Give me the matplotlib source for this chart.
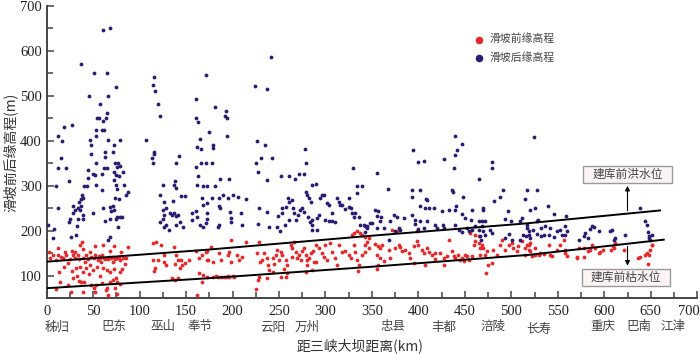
import matplotlib
matplotlib.use('Agg')
import matplotlib.pyplot as plt
from matplotlib.patches import Rectangle
from matplotlib.ticker import MultipleLocator
import matplotlib.transforms as mtransforms

# ---------------- data (distance km, elevation m) ----------------
front_pts = [
    (7.2,146),(12.6,146),(15,142),(10,135),(20.9,146),(27,155),(28.8,146),(30.6,152),(36,167),(37.8,174),
    (38.8,159),(34,146),(35,137),(39.6,140),(42.4,146),(46.8,152),(50.4,138.5),(52.5,146),(54.7,135),(57.6,138.5),
    (59.7,146),(61,168),(63,137),(64.7,138.5),(67,142),(69,138.5),(71,131),(73.4,138.5),(76,138.5),(79,135),
    (82,140),(85.6,138.5),(87,164.4),(72.7,166.7),(68.3,155),(52.5,166.7),(13.7,109),(27,110),(31.7,118),(36,120),
    (38.8,109),(42.4,116),(46.8,124),(49.6,112.6),(54,120),(60.4,118),(64.7,112.6),(68.3,109),(72.7,115),(79,107.6),
    (81.3,115),(35.3,88),(37.4,85),(40.3,86.7),(47.5,79),(50.4,73.3),(53,79),(26.3,64.4),(38.8,64.4),(52,64.4),
    (63.3,67.4),(68.3,86.7),(71,90.4),(74.8,94),(76,85),(78.4,81),(74,72),(66,57),(76,58.5),(64.7,73.3),
    (59.7,83),(28,94),(23.4,79),(14.4,86.7),(18.7,120),(23.4,127.4),(114.4,172),(117.3,174),(123,168),(126.6,146),
    (114.4,135),(119.4,135),(126,131),(128,124),(117,116.3),(115.8,110.4),(136.7,164.4),(139.6,146),(141,135),(138.5,125),
    (144,135),(145.7,124),(149,127.4),(153,135),(135,94),(138.5,90.4),(141,94),(143,116.3),(161,155),(164,138.5),
    (167,146),(172,155),(172.7,135),(164,105),(168.3,101.5),(172.7,98),(167,86.7),(162,57),(4,140),(12.7,161),(10,70),
    (44,136),(48,141),(56,143),(62,140),(66,136),(70,141),(74,136),(78,141),(31,140),(25,138),
    (41,131),(58,131),(45,104),(57,100),(33,100),(20,152),(80,152),(84,126),(18,140),(2,152),
    (176.8,164.4),(171.4,153.3),(173.2,135),(178.6,131),(185.7,149.6),(187.5,135),(194.6,146),(196.4,153.3),(198.2,129.6),(204.3,146),
    (207,135),(210,142),(214.3,175.6),(198.2,179),(182,100),(184,98),(187.5,98),(191,98),(193,98),(196.4,98),
    (200,99),(201.8,98),(194.6,100),(178.6,98),(228.6,175.6),(226.8,149.6),(234,149.6),(232,135),(229.3,129.6),(237.5,138.5),
    (238.6,124),(243,138.5),(246.4,146),(248.2,157),(251.8,153.3),(253.6,146),(250,135),(257,135),(259,124),(262.5,168),
    (264.3,160.7),(266,175.6),(267.9,153.3),(269.6,138.5),(271.4,146),(273.2,135),(275,155),(276.8,160.7),(278.6,146),(280.4,135),
    (282,138.5),(284,149.6),(286.4,155),(287.5,131),(280.4,124),(278.6,109),(285.7,112.6),(289.3,131),(259,105),(255.4,115),
    (251.8,98),(257,98),(243,109),(237.5,94),(228.6,98),(227.9,90.4),(225,70),(239.3,112.6),(244.6,125),(264.3,142),
    (296.4,149.6),(298.2,142),(301.8,135),(307,153.3),(310.7,138.5),(312.5,124),(314.3,168),(317.9,153.3),(321.4,155),(325,146),
    (327.9,138.5),(330.4,168),(332,153.3),(334,135),(336.4,124),(335,110.4),(339.3,146),(342.9,153.3),(328.6,190),(330.4,194),
    (334,199),(337.5,194),(339.3,190),(342.9,187),(344.6,175.6),(346.4,183),(305.4,172),(300,168),(289.3,168),(292.9,160.7),
    (343,169),(346.4,161.5),(353.6,170),(356.5,165),(359,161.5),(360.8,169),(355.4,145),(359,139),(357,124.4),(355.4,115.6),
    (362.5,132),(369.7,139),(368,157.8),(375,161.5),(378.7,169),(380.5,163),(382,154),(385.8,157.8),(389.4,150.4),(391,139),
    (394.8,128),(394.8,165),(400,169),(398.4,176),(403.8,157.8),(405.6,150.4),(409,161.5),(411,152.6),(414.5,146.7),(407,124.4),
    (418,150.4),(423.5,150.4),(427,139),(418,137.8),(427,124.4),(430.6,143),(432.4,180),(436,154),(437.8,143),(439.6,139),
    (443,146.7),(445,135.6),(446.8,139),(448.6,132),(450.4,146.7),(452,143),(454,135.6),(457.5,143),(459.3,169),(461,176),
    (464.7,172.6),(466.5,161.5),(468.3,169),(469,161.5),(466.5,145),(472,146.7),(473.7,154),(475.4,124.4),(479,128),(480.8,157.8),
    (484.4,146.7),(488,169),(489.8,180),(493.4,157.8),(497,169),(500.5,172.6),(502.3,161.5),(506,154),(507.7,165),(511.3,176),
    (515,161.5),(518.5,169),(520,154),(472.6,106),(455.7,195),(461,191),(464.7,187.4),(377,198.5),(371.5,202),(398.4,198.5),
    (516.7,169),(520.3,172.6),(518.5,157.8),(525.7,161.5),(531,150.4),(525,146.7),(529.3,146.7),(534.7,148),(540,169),(541.9,146.7),
    (543.7,143),(549,157.8),(552.6,169),(558,157.8),(557.3,150.4),(559.8,143),(556.2,180),(570.6,140.7),(577.7,140.7),(572.4,161.5),
    (577.7,161.5),(586.7,169),(585,157.8),(594,150.4),(607.5,157.8),(610,161.5),(611.8,172.6),(609,165),(638.7,140.7),(644,146.7),
    (645.9,150.4),(647.7,145),(649.5,157.8),(651.3,169),(647,126),(515,146.7),(522,143),(570.5,139),(583,154),(590,161.5),
    (595,151.8),(599,157.8),(620.7,157.8),(636.8,139),(651.2,169),
]

rear_pts = [
    (12.6,410),(16.9,400),(18.3,430),(15.4,361),(12.6,340),(21.2,340),(27.3,435),(36.6,571),(45.6,500),(51,550),
    (61,646),(68.5,650),(64.6,550),(66.4,500),(74.3,520),(46.6,401),(48,390),(48,370),(53.5,410),(53.1,350),
    (52.7,425),(54.5,450),(56.7,450),(57,481),(59.2,425),(61.7,425),(60.6,445),(63.9,450),(64.6,463),(63.2,375),
    (63.2,365),(61.7,340),(65.3,340),(66,401),(72.1,390),(71.8,375),(79.3,401),(73.9,350),(76.4,350),(78.6,345),
    (75.7,341),(72.5,330),(74.6,325),(77.5,321),(82.2,330),(44.5,336),(44.9,317),(50.2,326),(52,323),(60,326),
    (106.9,402),(115.2,541),(114.1,525),(116.6,511),(119.8,481),(122.4,456),(113.7,361),(114.1,350),(115.2,375),(115.9,371),
    (139.2,350),(142.4,366),(160.4,493),(161.1,450),(163.3,441),(161.8,387),(165,403),(166.1,381),(160.4,341),(162.9,321),
    (166.1,350),(171.2,546),(171.2,350),(174.7,420),(181.2,476),(179,391),(178.7,384),(178.3,350),(191.6,456),(193.8,450),
    (193.4,466),(193.8,410),(224.3,521),(226,400),(225.7,350),(227.8,330),(230.4,361),(237.2,516),(241.5,586),(242.2,361),
    (235,391),(251.9,321),(260.5,321),(271.6,326),(277.7,381),(279.1,350),(267.7,316),(277,326),
    (24.5,310),(10,300),(40,300),(43.5,300),(53,301),(72.7,312.6),(75,301),(83.5,301),(125,301),(138,310),
    (137.4,301),(139,295.5),(168,300),(172,300),(162,301),(37.8,279),(36.7,270),(39,273),(35,264),(37.4,255),
    (59.7,290),(76,292.6),(74,272),(77.7,270),(87,287),(85.6,279),(122,279),(144.6,277),(148.6,278),(126.6,264),
    (135.6,266),(128.4,250),(167,272),(168.7,257),(172.7,261),(12.6,250),(28,255.6),(30,246),(28.8,238.5),(33.8,250),
    (36.3,246),(39,235),(39.6,227),(25.5,226),(34,227),(24.5,220),(50,238.5),(60.4,250),(68,253),(69,244),
    (71,255),(72.3,246),(68.3,227),(75.5,231),(81.3,231),(78.8,231),(63,221.5),(77,209),(74.8,227),(124.8,246),
    (126.6,235),(125,227),(122.3,220),(128,212.6),(133,238.5),(135,235),(137.4,240),(139.6,233),(141.4,235),(143,218.5),
    (139,212.6),(146.8,209),(156.8,224),(162,231),(164.7,212.6),(168.3,209),(171,216),(172.7,226),(172,238.5),(132,201.5),
    (126,209),(156.8,238.5),(160.4,243.7),(1,212.6),(7.6,203.7),(6.5,184.4),(26.3,186.7),(31.7,190),(33,210),(65.8,179),
    (67.6,186.7),
    (236.8,312.6),(186.8,314),(195.7,315),(181.4,300),(189.3,279),(185.7,272),(177.9,273),(185.7,255),(186.8,250),(194.6,273),
    (200.7,279),(205.4,275.6),(214.3,270),(197,242),(198.2,229),(209,238.5),(210,212.6),(198.2,220),(185.7,212.6),(184,209),
    (228.6,251),(236.8,242),(239.3,209),(227.5,214),(248.2,209),(250.7,199),(256.4,212.6),(260.7,223.7),(252.9,238.5),(249.3,233),
    (257,253),(260.7,264.4),(260,272),(264.3,268),(253.6,249.6),(265,249.6),(266,238.5),(268.6,223.7),(270.7,235),(272.5,246),
    (275,249.6),(276.8,242),(279.3,286.7),(280.4,279),(282,272),(284,264.4),(285.7,301.5),(289.3,303),(280.7,231),(282.9,220),
    (285,223.7),(285.7,212.6),(285.7,201.5),(291,201.5),(291,227.4),(292.9,235),(296.4,279),(298.2,279),(294.6,272),(301.8,260.7),
    (304.3,257),(307,238.5),(300,223.7),(304.3,221.5),(307,221.5),(310.7,220),(312.5,272),(314.3,264.4),(316,257),(317.9,257),
    (321.4,248),(325,272),(325.7,253),(327.9,249.6),(328.6,238.5),(330.4,231),(332,238.5),(334,300),(339,300),(334,283),
    (336.4,231),(337.5,212.6),(341,212.6),(342.9,198),(344.6,211),
    (393,276),(409,269),(402,254),(407,250),(411,250),(417,250),(425,244),(432.4,246.7),(439.6,246.7),(440.3,256),
    (446.8,237),(450.4,228),(457.5,246.7),(456.8,224.4),(469,250),(470,246.7),(464.7,220.7),(468.3,220.7),(472,220.7),(481,266.7),
    (488,276),(496,244),(492.7,226.7),(499.8,222),(353.6,246.7),(356.5,243),(355.4,232),(360,230),(359,220.7),(350,217),
    (373.3,235.6),(377,229.6),(369.7,220.7),(378.7,206),(380.5,202),(374.4,198.5),(385,228),(393,235.6),(395.9,224.4),(396.6,214.8),
    (402,220.7),(399.5,204.4),(405.6,206),(409,220.7),(418,213),(420,206),(426,213),(427,206),(439,213),(444,202),
    (446.8,197),(452,206),(454,198.5),(457.5,202),(461,209.6),(464.7,202),(466.5,187.4),(467.6,180),(468.3,209.6),(470,198.5),
    (472,191),(477,202),(479,194.8),(497,192.6),(511.3,228),(509.5,220.7),(516.7,213),(518.5,198.5),(513,191),(520,183.7),
    (343,209.6),(344.6,206),(355.4,206),(362.5,206),(368,180),(348,217),(509.5,180),(500.5,180),(493.4,183.7),
    (329.4,340),(355.2,328),(394.6,380),(399.4,353),(406,355.6),(428,360),(438,340),(439.5,411),(446.7,393),(441.3,380),
    (439.8,369),(479,352.7),(479,340),(465,316),(367.7,292.6),(393.5,291),(401.8,291),(436.6,291),(437.7,286.7),(408,270),
    (448.5,276),(490.8,291),(515,270),(524.9,409),(516.7,291),(527.4,291),
    (520.3,246.7),(525,250.4),(539.4,254),(545.5,237),(558.7,232),(528.6,224.4),(527.5,220.7),(516.7,206),(522.8,202),(536.5,209.6),
    (532.2,206),(541.9,206),(549,200),(552.6,202),(558,209.6),(559.8,198.5),(515.7,187.4),(519.3,191),(527.5,192.6),(532.2,187.4),
    (534.7,189.6),(540,191),(545.5,185),(554.4,189.6),(558,191),(638.7,250.4),(644,220.7),(645.9,213.3),(647,197),(647.7,187.4),
    (648.4,183.7),(649.5,180),(651.3,191),(586.7,209.6),(585,204.4),(588.5,207.4),(579.5,194.8),(577.7,187.4),(583,183.7),(572.4,180),
    (606.4,198.5),(608.2,202),(610,180),(611.8,183.7),(594.6,200),(621.9,191),
]

flood_x = [0, 175, 345, 515, 660]
flood_y = [131, 158, 188, 216, 245]
low_x = [0, 173, 345, 518, 664]
low_y = [72, 94, 119, 146, 180]

places = ['秭归', '巴东', '巫山', '奉节', '云阳', '万州', '忠县', '丰都', '涪陵', '长寿', '重庆', '巴南', '江津']
place_km = [11, 72, 125, 165, 243, 280, 373, 427, 480, 529, 599, 637, 674]

series_labels = ['滑坡前缘高程', '滑坡后缘高程']
x_ticks = list(range(0, 701, 50))
y_ticks = list(range(100, 701, 100))

# ---------------- drawing ----------------
plt.rcParams['font.family'] = ['Noto Sans CJK SC', 'DejaVu Sans']
RED = '#e8282a'
BLUE = '#2c1b72'

fig = plt.figure(figsize=(7.0, 3.54), dpi=100)
ax = fig.add_axes([0.0667, 0.158, 0.9293, 0.825])

fx, fy = zip(*front_pts)
rx, ry = zip(*rear_pts)
ax.scatter(fx, fy, s=7.5, color=RED, linewidths=0, label=series_labels[0], zorder=3)
ax.scatter(rx, ry, s=7.5, color=BLUE, linewidths=0, label=series_labels[1], zorder=4)

ax.plot(flood_x, flood_y, color='black', lw=1.4, zorder=5)
ax.plot(low_x, low_y, color='black', lw=1.4, zorder=5)

ax.set_xlim(0, 700)
ax.set_ylim(50, 700)
ax.set_xticks(x_ticks)
ax.set_xticklabels([str(t) for t in x_ticks[:-1]] + [''])
ax.set_yticks(y_ticks)
ax.xaxis.set_minor_locator(MultipleLocator(25))
ax.yaxis.set_minor_locator(MultipleLocator(50))
for s in ['top', 'right']:
    ax.spines[s].set_visible(False)
for s in ['left', 'bottom']:
    ax.spines[s].set_color('#444444')
    ax.spines[s].set_linewidth(1.4)
ax.tick_params(axis='both', which='both', direction='in', color='#444444', width=1.1)
ax.tick_params(axis='both', which='major', length=5)
ax.tick_params(axis='both', which='minor', length=4)
ax.tick_params(axis='x', which='major', pad=5)
for lab in ax.get_xticklabels() + ax.get_yticklabels():
    lab.set_fontfamily('Liberation Serif')
    lab.set_fontsize(10.5)
    lab.set_color('#222222')

# last x tick label, nudged left so it stays inside the figure
ax.annotate(str(x_ticks[-1]), xy=(x_ticks[-1], 0),
            xycoords=mtransforms.blended_transform_factory(ax.transData, ax.transAxes),
            xytext=(-6, -5), textcoords='offset points', ha='center', va='top',
            fontfamily='Liberation Serif', fontsize=10.5, color='#222222',
            annotation_clip=False)

# legend
ax.legend(loc='upper left', bbox_to_anchor=(0.657, 0.905), frameon=False,
          handlelength=1.0, handletextpad=0.45, markerscale=2.0,
          labelspacing=0.7, borderpad=0, borderaxespad=0,
          prop={'size': 7.8}, labelcolor='#444444')

# place names under the axis
trans = mtransforms.blended_transform_factory(ax.transData, ax.transAxes)
for name, km in zip(places, place_km):
    dy = -0.106 if name == '长寿' else -0.099
    ax.text(km, dy, name, transform=trans, ha='center', va='center',
            fontsize=9, color='#444444', clip_on=False)

# water level boxes and arrows
for (x0, x1, y0, y1, txt) in [(577.6, 672.8, 306, 344.4, '建库前洪水位'),
                              (575.9, 671.0, 76.2, 115.6, '建库前枯水位')]:
    ax.add_patch(Rectangle((x0, y0), x1 - x0, y1 - y0, facecolor='#fcf4f4',
                           edgecolor='#9a9a9a', lw=1.0, zorder=6, clip_on=False))
    ax.text((x0 + x1) / 2, (y0 + y1) / 2, txt, ha='center', va='center',
            fontsize=8.5, color='#444444', zorder=7)

ax.annotate('', xy=(625, 306), xytext=(625, 238),
            arrowprops=dict(arrowstyle='-|>', color='black', lw=0.8, mutation_scale=7), zorder=6)
ax.annotate('', xy=(625, 116), xytext=(625, 171),
            arrowprops=dict(arrowstyle='-|>', color='black', lw=0.8, mutation_scale=7), zorder=6)

fig.text(360 / 700, 1 - 346 / 354, '距三峡大坝距离(km)', ha='center', va='center',
         fontsize=10, color='#333333')
fig.text(10 / 700, 1 - 152 / 354, '滑坡前后缘高程(m)', ha='center', va='center',
         rotation=90, fontsize=10, color='#333333')

fig.savefig('out.png', dpi=100)
